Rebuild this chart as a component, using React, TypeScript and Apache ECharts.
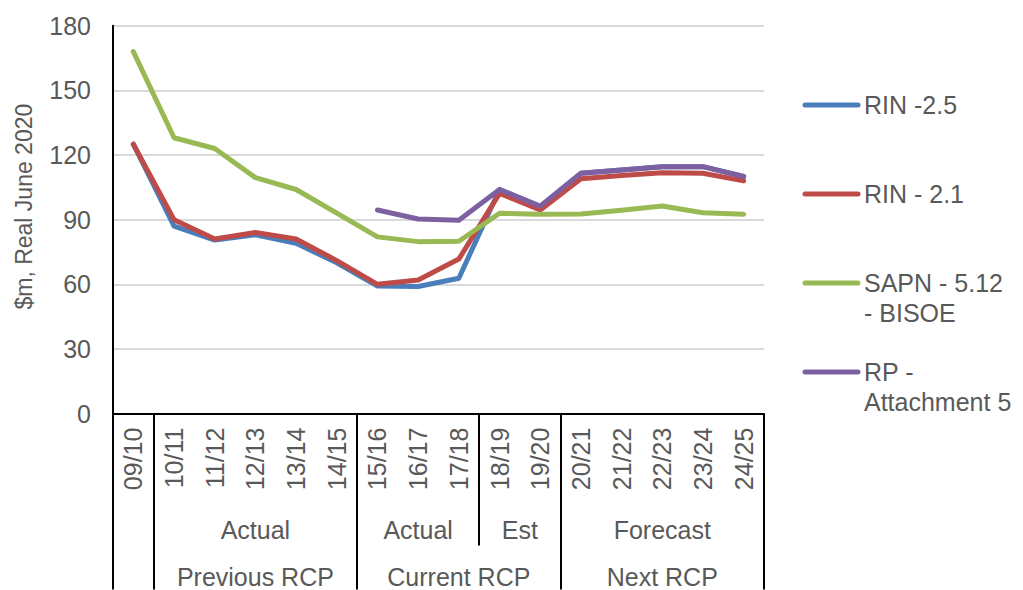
import React, { useEffect, useRef } from "react";
import * as echarts from "echarts";

// Financial years on the category axis
const categories = [
  "09/10", "10/11", "11/12", "12/13", "13/14", "14/15", "15/16", "16/17",
  "17/18", "18/19", "19/20", "20/21", "21/22", "22/23", "23/24", "24/25",
];

// $m, Real June 2020
const rin25 = [125, 87, 80.5, 83, 79, 70, 59.2, 59, 62.8, 104, 96, 111.5, 113, 114.6, 114.6, 110];
const rin21 = [125, 90, 81, 84, 81, 71, 60, 62, 71.7, 102.2, 94.5, 109, 110.5, 111.8, 111.5, 108];
const sapn = [168, 128, 123, 109.5, 104, 93, 82, 79.8, 80, 93, 92.5, 92.6, 94.4, 96.3, 93.2, 92.5];
const rp = [null, null, null, null, null, null, 94.5, 90.3, 89.7, 104, 96.3, 111.5, 113, 114.6, 114.6, 110];

const seriesNames = ["RIN -2.5", "RIN - 2.1", "SAPN - 5.12 - BISOE", "RP - Attachment 5"];
const legendLabels = ["RIN -2.5", "RIN - 2.1", "SAPN - 5.12\n- BISOE", "RP -\nAttachment 5"];
const seriesColors = ["#4A7EBB", "#BE4B48", "#98B954", "#7D60A0"];

// Y axis ticks
const yMin = 0;
const yMax = 180;
const yStep = 30;

// Second label row: data period, spanning category index ranges [start, end)
const periodLabels = ["Actual", "Actual", "Est", "Forecast"];
const periodBounds = [[1, 6], [6, 9], [9, 11], [11, 16]];

// Third label row: regulatory control period
const rcpLabels = ["Previous RCP", "Current RCP", "Next RCP"];
const rcpBounds = [[1, 6], [6, 11], [11, 16]];

// Divider positions (in category units) under the axis
const fullDividers = [0, 1, 6, 11, 16];
const shortDividers = [9];

const FONT = '"Liberation Sans", Arial, sans-serif';
const TEXT = "#595959";

const centersOf = (bounds: number[][]) => bounds.map(([a, b]) => (a + b) / 2);
const labelAt = (bounds: number[][], labels: string[]) => (v: number) => {
  const i = centersOf(bounds).findIndex((c) => Math.abs(c - v) < 1e-6);
  return i >= 0 ? labels[i] : "";
};

export default function App() {
  const ref = useRef<HTMLDivElement>(null);

  useEffect(() => {
    document.body.style.margin = "0";
    const chart = echarts.init(ref.current!, null, { renderer: "svg" });

    const data = [rin25, rin21, sapn, rp];

    const groupAxis = (
      bounds: number[][],
      labels: string[],
      dividers: number[],
      tickLen: number,
      margin: number
    ) => ({
      type: "value",
      position: "bottom",
      min: 0,
      max: categories.length,
      axisLine: { show: false },
      splitLine: { show: false },
      axisTick: {
        show: true,
        customValues: dividers,
        length: tickLen,
        lineStyle: { color: "#000", width: 2 },
      },
      axisLabel: {
        show: true,
        customValues: centersOf(bounds),
        formatter: labelAt(bounds, labels),
        margin,
        fontSize: 25,
        lineHeight: 25,
        fontFamily: FONT,
        color: TEXT,
        verticalAlign: "top",
      },
    });

    const legendGraphics: any[] = [];
    legendLabels.forEach((label, i) => {
      const top = 90 + i * 89;
      legendGraphics.push({
        type: "line",
        shape: { x1: 805, y1: top + 15, x2: 858, y2: top + 15 },
        style: { stroke: seriesColors[i], lineWidth: 5, lineCap: "round" },
      });
      legendGraphics.push({
        type: "text",
        x: 864,
        y: top,
        style: {
          text: label,
          fontSize: 25,
          lineHeight: 30,
          fontFamily: FONT,
          fill: TEXT,
          verticalAlign: "top",
        },
      });
    });

    chart.setOption({
      animation: false,
      grid: { left: 113, right: 259, top: 25.7, bottom: 176.4 },
      xAxis: [
        {
          type: "category",
          data: categories,
          boundaryGap: true,
          axisLine: { show: true, lineStyle: { color: "#000", width: 2 } },
          axisTick: { show: false },
          axisLabel: {
            rotate: 90,
            margin: 14,
            fontSize: 25,
            fontFamily: FONT,
            color: TEXT,
            interval: 0,
          },
        },
        groupAxis(periodBounds, periodLabels, fullDividers, 176, 104),
        groupAxis(rcpBounds, rcpLabels, [0, ...shortDividers], 132, 151),
      ],
      yAxis: {
        type: "value",
        min: yMin,
        max: yMax,
        interval: yStep,
        name: "$m, Real June 2020",
        nameLocation: "middle",
        nameRotate: 90,
        nameGap: 78,
        nameTextStyle: {
          fontSize: 23,
          fontFamily: FONT,
          color: TEXT,
          padding: [0, 0, 0, 26],
        },
        axisLine: { show: true, lineStyle: { color: "#000", width: 2 } },
        axisTick: { show: false },
        axisLabel: { fontSize: 25, fontFamily: FONT, color: TEXT, margin: 22 },
        splitLine: { show: true, lineStyle: { color: "#D9D9D9", width: 2 } },
      },
      series: data.map((d, i) => ({
        name: seriesNames[i],
        type: "line",
        data: d,
        xAxisIndex: 0,
        showSymbol: false,
        symbol: "none",
        connectNulls: false,
        lineStyle: { color: seriesColors[i], width: 5, cap: "round", join: "round" },
        itemStyle: { color: seriesColors[i] },
      })),
      graphic: legendGraphics,
    });

    return () => chart.dispose();
  }, []);

  return <div ref={ref} style={{ width: 1023, height: 590 }} />;
}
